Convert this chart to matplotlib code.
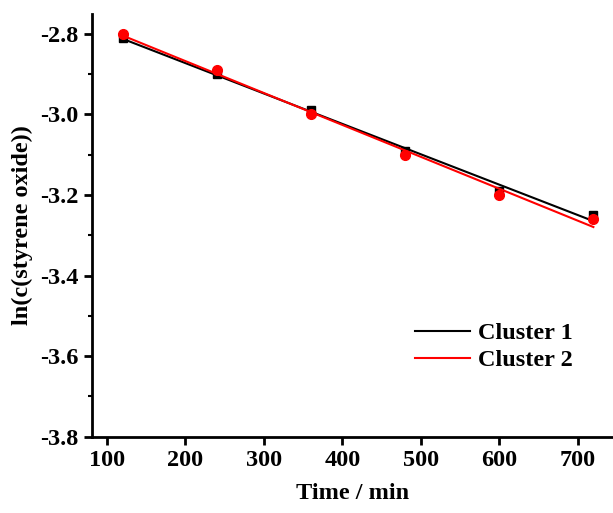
import numpy as np
import matplotlib
matplotlib.use('agg')
from matplotlib import pyplot as plt
from matplotlib.ticker import MultipleLocator

time_min = [120, 240, 360, 480, 600, 720]
cluster1 = [-2.81, -2.90, -2.99, -3.09, -3.19, -3.25]
cluster2 = [-2.80, -2.89, -3.00, -3.10, -3.20, -3.26]

plt.rcParams['font.family'] = 'Liberation Serif'
plt.rcParams['font.weight'] = 'bold'

fig = plt.figure(figsize=(6.13, 5.13), dpi=100)
ax = fig.add_axes([0.150, 0.149, 0.850, 0.824])

x = np.array(time_min, dtype=float)
for y, color, marker, ms, name in [(cluster1, 'black', 's', 6, 'Cluster 1'),
                                   (cluster2, 'red', 'o', 7, 'Cluster 2')]:
    k, b = np.polyfit(x, y, 1)
    ax.plot(x, y, linestyle='none', marker=marker, color=color, ms=ms)
    ax.plot(x, k * x + b, color=color, lw=1.5, label=name)

ax.set_xlim(81, 745)
ax.set_ylim(-3.8, -2.75)
ax.xaxis.set_major_locator(MultipleLocator(100))
ax.yaxis.set_major_locator(MultipleLocator(0.2))
ax.yaxis.set_minor_locator(MultipleLocator(0.1))
ax.yaxis.set_major_formatter(matplotlib.ticker.FormatStrFormatter('%.1f'))

for side in ['top', 'right']:
    ax.spines[side].set_visible(False)
for side in ['left', 'bottom']:
    ax.spines[side].set_linewidth(2)
ax.tick_params(which='major', direction='out', length=6, width=2, labelsize=17.5)
ax.tick_params(which='minor', direction='out', length=3, width=1.5)

ax.set_xlabel('Time / min', fontsize=17.5, fontweight='bold', labelpad=9)
ax.set_ylabel('ln(c(styrene oxide))', fontsize=17.5, fontweight='bold', labelpad=5)

ax.legend(loc='upper left', bbox_to_anchor=(0.62, 0.27), frameon=False,
          fontsize=17.5, handlelength=2.25, labelspacing=0.2, handletextpad=0.35,
          borderpad=0, borderaxespad=0)

fig.savefig('out.png', dpi=100)
